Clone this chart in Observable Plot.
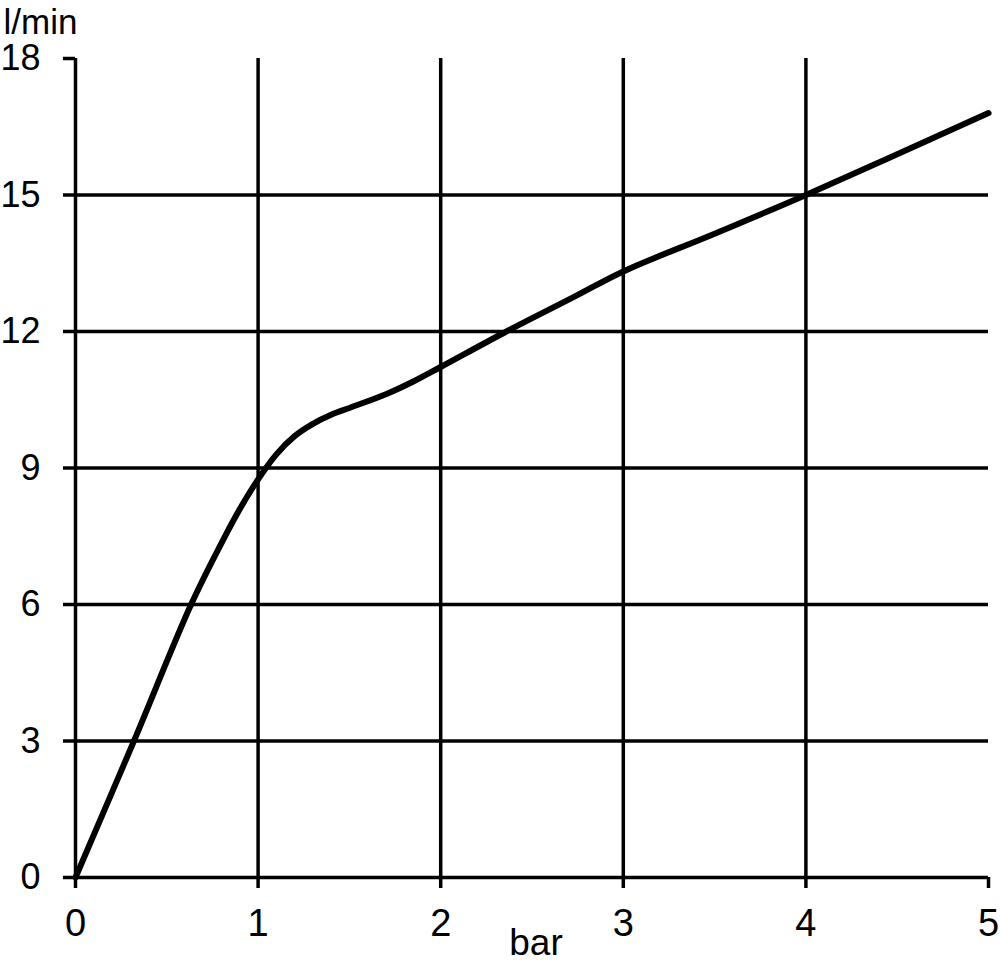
<!DOCTYPE html>
<html>
<head>
<meta charset="utf-8">
<script src="https://cdn.jsdelivr.net/npm/d3@7"></script>
<script src="https://cdn.jsdelivr.net/npm/@observablehq/plot@0.6"></script>
<style>
  html, body { margin: 0; padding: 0; background: #fff; }
  #chart svg { display: block; }
</style>
</head>
<body>
<div id="chart"></div>
<script>
// Flow (l/min) versus pressure (bar)
const pressure = [0, 0.32, 0.633, 0.806, 0.9, 1.0, 1.1, 1.2, 1.3, 1.4, 1.5, 1.7, 1.85, 2.0, 2.36, 2.73, 3.0, 3.5, 4.0, 5.0];
const flow     = [0, 3.0, 6.0, 7.40, 8.1, 8.75, 9.3, 9.7, 9.97, 10.17, 10.32, 10.62, 10.9, 11.22, 12.0, 12.76, 13.32, 14.15, 15.0, 16.8];
const xTicks = [0, 1, 2, 3, 4, 5];
const yTicks = [0, 3, 6, 9, 12, 15, 18];
const xGrid = [1, 2, 3, 4];
const yGrid = [3, 6, 9, 12, 15];
const xLabel = "bar";
const yLabel = "l/min";

const data = pressure.map((p, i) => ({p, q: flow[i]}));
const font = "'Liberation Sans', Arial, sans-serif";

const chart = Plot.plot({
  width: 1000,
  height: 964,
  marginLeft: 75,
  marginRight: 12,
  marginTop: 58,
  marginBottom: 87,
  style: {fontFamily: font, background: "#fff", color: "#000"},
  x: {domain: [0, 5]},
  y: {domain: [0, 18]},
  marks: [
    Plot.ruleX(xGrid, {y1: 0, y2: 18, stroke: "#000", strokeWidth: 3.5}),
    Plot.ruleY(yGrid, {x1: 0, x2: 5, stroke: "#000", strokeWidth: 3.5}),
    Plot.ruleX([0], {y1: 0, y2: 18, stroke: "#000", strokeWidth: 3.5}),
    Plot.ruleY([0], {x1: 0, x2: 5, stroke: "#000", strokeWidth: 3.5}),
    Plot.axisX({ticks: xTicks, tickSize: 11, tickPadding: 21, tickFormat: d3.format("d"), fontSize: 38, strokeWidth: 3.5, label: null}),
    Plot.axisY({ticks: yTicks, tickSize: 12, tickPadding: 23, tickFormat: d3.format("d"), fontSize: 36, strokeWidth: 3.5, label: null}),
    Plot.line(data, {x: "p", y: "q", curve: "catmull-rom", stroke: "#000", strokeWidth: 6, strokeLinecap: "round"}),
    Plot.text([yLabel], {frameAnchor: "top-left", dx: -72, dy: -36, textAnchor: "start", lineAnchor: "middle", fontSize: 35, fill: "#000"}),
    Plot.text([xLabel], {frameAnchor: "bottom", dx: 4, dy: 66, textAnchor: "middle", lineAnchor: "middle", fontSize: 37, fill: "#000"})
  ]
});
document.getElementById("chart").appendChild(chart);
</script>
</body>
</html>
